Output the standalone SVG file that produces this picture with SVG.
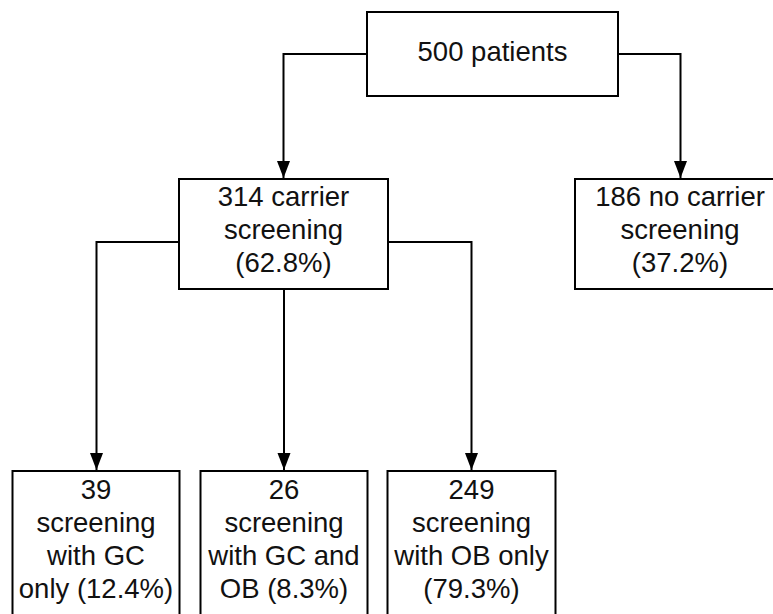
<svg xmlns="http://www.w3.org/2000/svg" width="773" height="614" viewBox="0 0 773 614">
<defs>
<marker id="arr" markerUnits="userSpaceOnUse" markerWidth="18" markerHeight="14" refX="17" refY="6.5" orient="auto">
<path d="M0,0 L17,6.5 L0,13 Z" fill="#000"/>
</marker>
<style>
.box{fill:#fff;stroke:#000;stroke-width:2}
.t{font-family:"Liberation Sans",Arial,sans-serif;font-size:27.5px;fill:#111;text-anchor:middle}
.c{fill:none;stroke:#000;stroke-width:2}
</style>
</defs>
<rect width="773" height="614" fill="#fff"/>
<g id="connectors">
<path class="c" d="M367,54 H283.5 V178" marker-end="url(#arr)"/>
<path class="c" d="M618,54 H680.5 V178" marker-end="url(#arr)"/>
<path class="c" d="M179,242 H96.5 V470" marker-end="url(#arr)"/>
<path class="c" d="M284,289 V470" marker-end="url(#arr)"/>
<path class="c" d="M388,242 H471.5 V470" marker-end="url(#arr)"/>
</g>
<g id="n500">
<rect class="box" x="367" y="12" width="251" height="84"/>
<text class="t" x="492.5" y="61">500 patients</text>
</g>
<g id="n314">
<rect class="box" x="179" y="179" width="209" height="110"/>
<text class="t" x="283.5" y="206">314 carrier</text>
<text class="t" x="283.5" y="239">screening</text>
<text class="t" x="283.5" y="272">(62.8%)</text>
</g>
<g id="n186">
<rect class="box" x="575" y="179" width="211" height="110"/>
<text class="t" x="680" y="206">186 no carrier</text>
<text class="t" x="680" y="239">screening</text>
<text class="t" x="680" y="272">(37.2%)</text>
</g>
<g id="n39">
<rect class="box" x="12.5" y="471" width="167" height="160"/>
<text class="t" x="96" y="499">39</text>
<text class="t" x="96" y="532">screening</text>
<text class="t" x="96" y="565">with GC</text>
<text class="t" x="96" y="598">only (12.4%)</text>
</g>
<g id="n26">
<rect class="box" x="200.5" y="471" width="167" height="160"/>
<text class="t" x="284" y="499">26</text>
<text class="t" x="284" y="532">screening</text>
<text class="t" x="284" y="565">with GC and</text>
<text class="t" x="284" y="598">OB (8.3%)</text>
</g>
<g id="n249">
<rect class="box" x="387.5" y="471" width="168" height="160"/>
<text class="t" x="471.5" y="499">249</text>
<text class="t" x="471.5" y="532">screening</text>
<text class="t" x="471.5" y="565">with OB only</text>
<text class="t" x="471.5" y="598">(79.3%)</text>
</g>
</svg>
